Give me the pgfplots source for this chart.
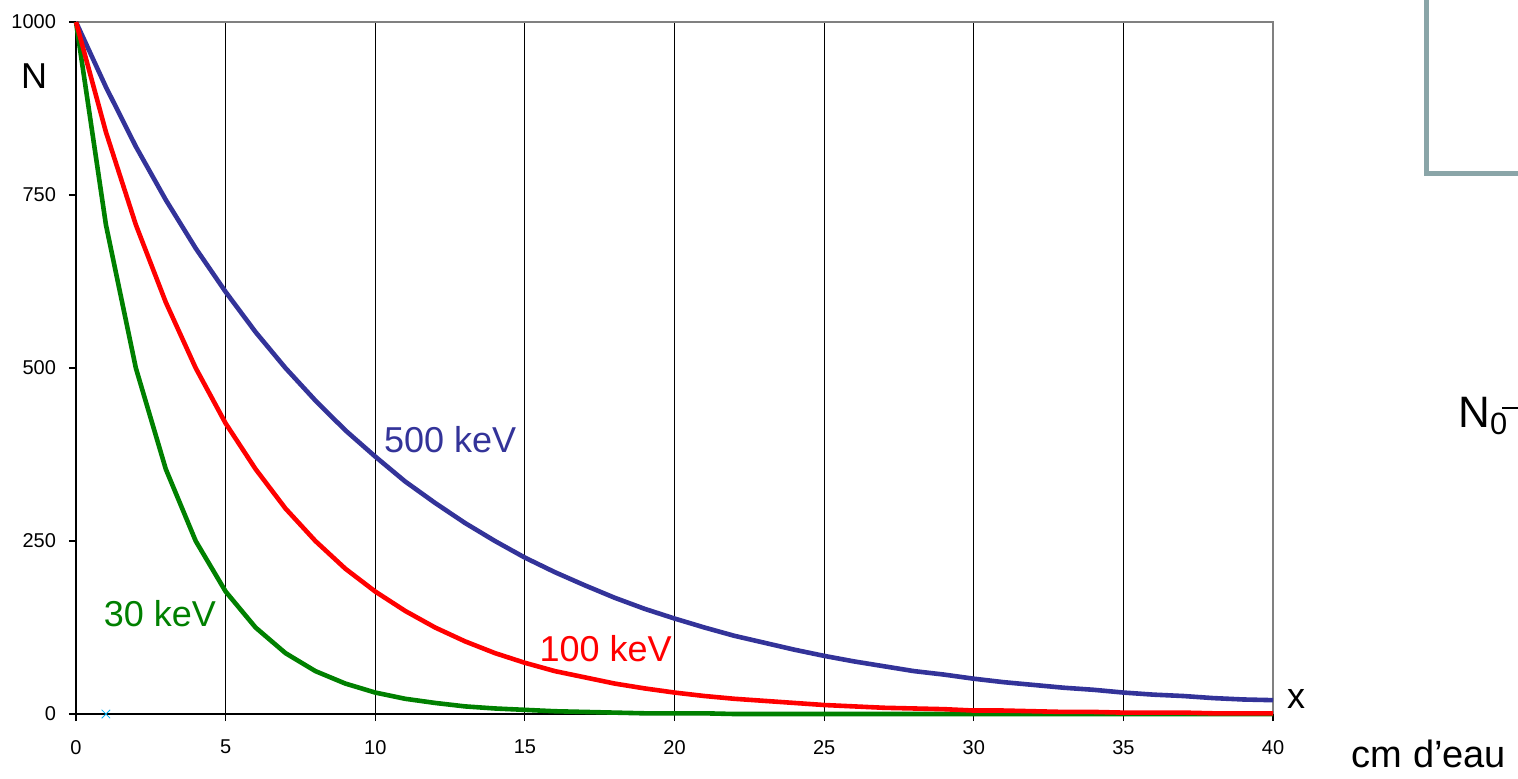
\documentclass[border=0pt]{standalone}
\usepackage{fontspec}
\setmainfont{Liberation Sans}
\usepackage{pgfplots}
\pgfplotsset{compat=1.18}
\definecolor{kev500}{RGB}{51,51,153}
\definecolor{kev100}{RGB}{255,0,0}
\definecolor{kev30}{RGB}{0,128,0}
\definecolor{boxgray}{RGB}{138,165,168}
\begin{document}
\begin{tikzpicture}
\path[use as bounding box] (-38pt,-32pt) rectangle (721pt,357pt);
\begin{axis}[
  at={(0pt,0pt)}, anchor=south west,
  scale only axis, width=598.5pt, height=346pt,
  xmin=0, xmax=40, ymin=0, ymax=1000,
  axis lines*=left,
  axis line style={-, black, line width=0.8pt},
  xtick={0,5,...,40}, ytick={0,250,500,750,1000},
  xmajorgrids, major grid style={black, line width=0.5pt},
  tick align=outside, major tick length=3.5pt,
  tick style={black, line width=0.6pt},
  /pgf/number format/assume math mode=true,
  /pgf/number format/1000 sep={},
  ticklabel style={font=\fontsize{10}{12}\selectfont},
  xticklabel style={yshift=-6pt},
  yticklabel style={xshift=-3pt},
  clip=false,
]
\draw[gray, line width=0.8pt] (axis cs:0,1000) -- (axis cs:40,1000) -- (axis cs:40,0);
\addplot[kev500, line width=2.3pt] coordinates {
(0,1000)(1,906)(2,820)(3,743)(4,673)(5,610)(6,552)(7,500)(8,453)(9,410)
(10,372)(11,336)(12,305)(13,276)(14,250)(15,226)(16,205)(17,186)(18,168)(19,152)
(20,138)(21,125)(22,113)(23,103)(24,93)(25,84)(26,76)(27,69)(28,62)(29,57)
(30,51)(31,46)(32,42)(33,38)(34,35)(35,31)(36,28)(37,26)(38,23)(39,21)(40,20)};
\addplot[kev30, line width=2.3pt] coordinates {
(0,1000)(1,707)(2,500)(3,354)(4,250)(5,177)(6,125)(7,88)(8,62)(9,44)
(10,31)(11,22)(12,16)(13,11)(14,8)(15,6)(16,4)(17,3)(18,2)(19,1)
(20,1)(21,1)(22,0)(23,0)(24,0)(25,0)(26,0)(27,0)(28,0)(29,0)
(30,0)(31,0)(32,0)(33,0)(34,0)(35,0)(36,0)(37,0)(38,0)(39,0)(40,0)};
\addplot[kev100, line width=2.3pt] coordinates {
(0,1000)(1,841)(2,707)(3,595)(4,500)(5,420)(6,354)(7,297)(8,250)(9,210)
(10,177)(11,149)(12,125)(13,105)(14,88)(15,74)(16,62)(17,53)(18,44)(19,37)
(20,31)(21,26)(22,22)(23,19)(24,16)(25,13)(26,11)(27,9)(28,8)(29,7)
(30,5)(31,5)(32,4)(33,3)(34,3)(35,2)(36,2)(37,2)(38,1)(39,1)(40,1)};
\addplot[only marks, mark=x, cyan, mark size=3pt] coordinates {(1,0)};
\node[kev500, font=\fontsize{18}{20}\selectfont] at (axis cs:12.5,396) {500 keV};
\node[kev100, font=\fontsize{18}{20}\selectfont] at (axis cs:17.7,95) {100 keV};
\node[kev30, font=\fontsize{18}{20}\selectfont] at (axis cs:2.8,145) {30 keV};
\end{axis}
\node[font=\fontsize{18}{20}\selectfont] at (-21pt,319pt) {N};
\node[font=\fontsize{18}{20}\selectfont] at (610pt,7.5pt) {x};
\node[font=\fontsize{19}{21}\selectfont] at (676.5pt,-20pt) {cm d’eau};
\node[anchor=base west, inner sep=0pt, font=\fontsize{22}{24}\selectfont] at (691pt,143.5pt) {N\textsubscript{0}};
\draw[black, line width=0.6pt] (713pt,153pt) -- (721pt,153pt);
\draw[boxgray, line width=2.5pt] (675.25pt,357pt) -- (675.25pt,270.25pt) -- (721pt,270.25pt);
\end{tikzpicture}
\end{document}
